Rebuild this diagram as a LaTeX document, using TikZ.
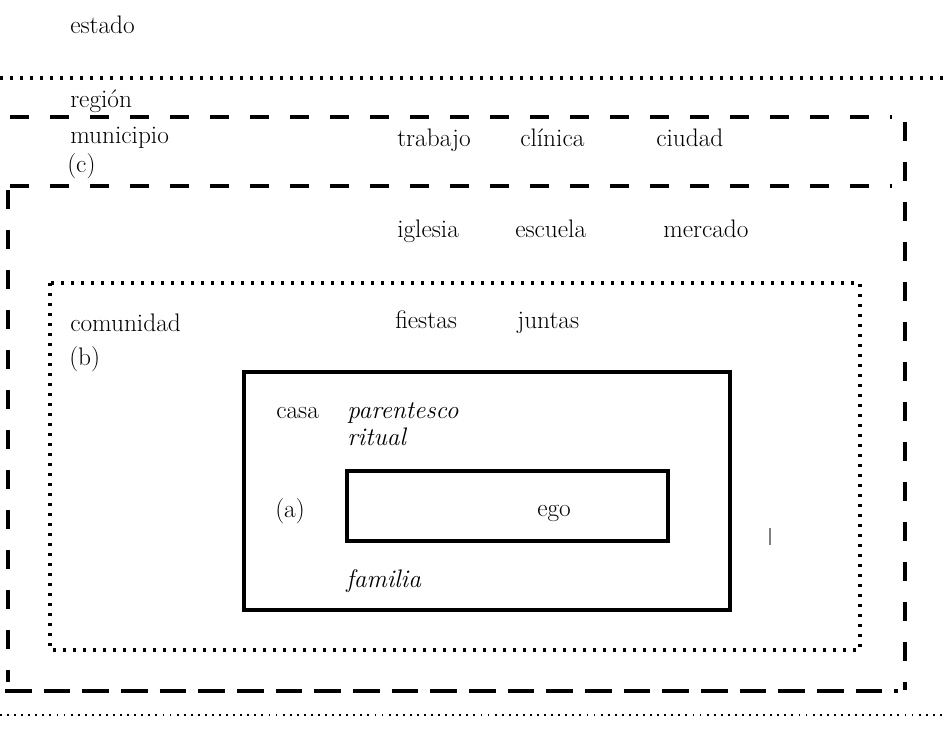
\documentclass[tikz,border=0pt]{standalone}
\usepackage{tikz}
\usetikzlibrary{calc}

\tikzset{
  lbl/.style={anchor=base west, inner sep=0pt, font=\fontsize{19}{22}\selectfont},
  ital/.style={lbl, font=\fontsize{19}{22}\selectfont\itshape},
  longdash/.style={line width=2.5pt, dash pattern=on 14pt off 16pt},
  shortdash/.style={line width=2.5pt, dash pattern=on 20pt off 9pt},
  bigdots/.style={line width=2.3pt, dash pattern=on 1.9pt off 5.6pt},
  smalldots/.style={line width=1.2pt, dash pattern=on 1.4pt off 3.9pt},
  solidbox/.style={line width=2.3pt}
}

\begin{document}
\begin{tikzpicture}[x=0.75pt, y=-0.75pt]
    \useasboundingbox (0,0) rectangle (946,733);
    % Estado / region boundary
    \draw[bigdots] (0,78) -- (946,78);
    \draw[smalldots] (0,715) -- (946,715);
    % Municipio band and outer box
    \draw[longdash] (10,117) -- (892,117);
    \draw[longdash] (10,186) -- (892,186);
    \draw[longdash] (905,122) -- (905,690);
    \draw[longdash] (8,190) -- (8,682);
    \draw[shortdash] (5,691) -- (898,691);
    % Comunidad
    \draw[bigdots] (50,283) rectangle (860,650);
    % Casa and ego
    \draw[solidbox] (244,372) rectangle (730,610);
    \draw[solidbox] (347,471) rectangle (668,541);
    \draw[gray, line width=1pt] (770,528) -- (770,545);
    % Left labels
    \node[lbl] (estado) at (70,33) {estado};
    \node[lbl] (region) at (70,107) {región};
    \node[lbl] (municipio) at (70,143) {municipio};
    \node[lbl] (c) at (67,172) {(c)};
    \node[lbl] (comunidad) at (70,331) {comunidad};
    \node[lbl] (b) at (69,365) {(b)};
    % Places
    \node[lbl] (trabajo) at (397,146) {trabajo};
    \node[lbl] (clinica) at (520,146) {clínica};
    \node[lbl] (ciudad) at (656,146) {ciudad};
    \node[lbl] (iglesia) at (397,237) {iglesia};
    \node[lbl] (escuela) at (515,237) {escuela};
    \node[lbl] (mercado) at (663,237) {mercado};
    \node[lbl] (fiestas) at (395,328) {fiestas};
    \node[lbl] (juntas) at (517,328) {juntas};
    % Household
    \node[lbl] (casa) at (276,418) {casa};
    \node[ital] (parentesco) at (347,418) {parentesco};
    \node[ital] (ritual) at (347,445) {ritual};
    \node[lbl] (a) at (275,517) {(a)};
    \node[lbl] (ego) at (537,516) {ego};
    \node[ital] (familia) at (346,587) {familia};
\end{tikzpicture}
\end{document}
